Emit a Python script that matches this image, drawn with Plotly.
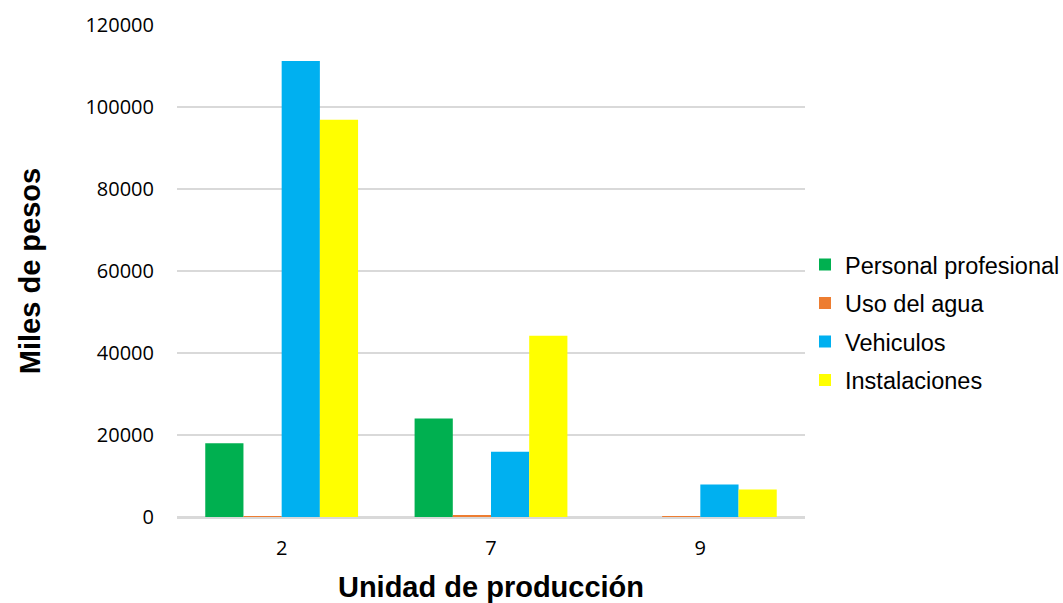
import plotly.graph_objects as go

unidades = ["2", "7", "9"]
personal = [18000, 24000, 0]
agua = [60, 450, 60]
vehiculos = [111200, 15900, 7900]
instalaciones = [96900, 44200, 6700]

series = [
    ("Personal profesional", personal, "#00b050"),
    ("Uso del agua", agua, "#ed7d31"),
    ("Vehiculos", vehiculos, "#00b0f0"),
    ("Instalaciones", instalaciones, "#ffff00"),
]

fig = go.Figure()
for name, vals, color in series:
    fig.add_trace(go.Bar(
        x=unidades, y=vals, name=name, legendgroup=name,
        marker=dict(color=color, line=dict(width=0)),
    ))

ARIAL = "Liberation Sans, Arial"
TICKS = "Open Sans, Calibri"

fig.update_layout(
    width=1063, height=603,
    barmode="group", bargap=0.27, bargroupgap=0,
    plot_bgcolor="white", paper_bgcolor="white",
    font=dict(family=ARIAL, size=16, color="#000000"),
    margin=dict(l=177, r=258, t=25, b=86, autoexpand=False),
    legend=dict(x=1.0, y=0.395, yanchor="middle", xanchor="left",
                font=dict(size=23.5, family=ARIAL), tracegroupgap=5,
                traceorder="grouped"),
    xaxis=dict(
        type="category",
        title=dict(text="<b>Unidad de producción</b>", font=dict(size=29, family=ARIAL), standoff=18),
        showgrid=False, ticks="", showline=True, linecolor="#d9d9d9", linewidth=1.5,
        tickfont=dict(size=20, family=TICKS), ticklabelstandoff=12,
    ),
    yaxis=dict(
        range=[0, 120000], dtick=20000,
        title=dict(text="<b>Miles de pesos</b>", font=dict(size=29, family=ARIAL), standoff=36),
        showgrid=True, gridcolor="#d9d9d9", gridwidth=1.5,
        zeroline=True, zerolinecolor="#d9d9d9", zerolinewidth=1.5,
        tickformat="d", ticks="", tickfont=dict(size=20, family=TICKS), ticklabelstandoff=22,
    ),
)

fig.write_html(
    "out.html",
    config={"displayModeBar": False},
    post_script="document.body.style.margin='0';",
)
